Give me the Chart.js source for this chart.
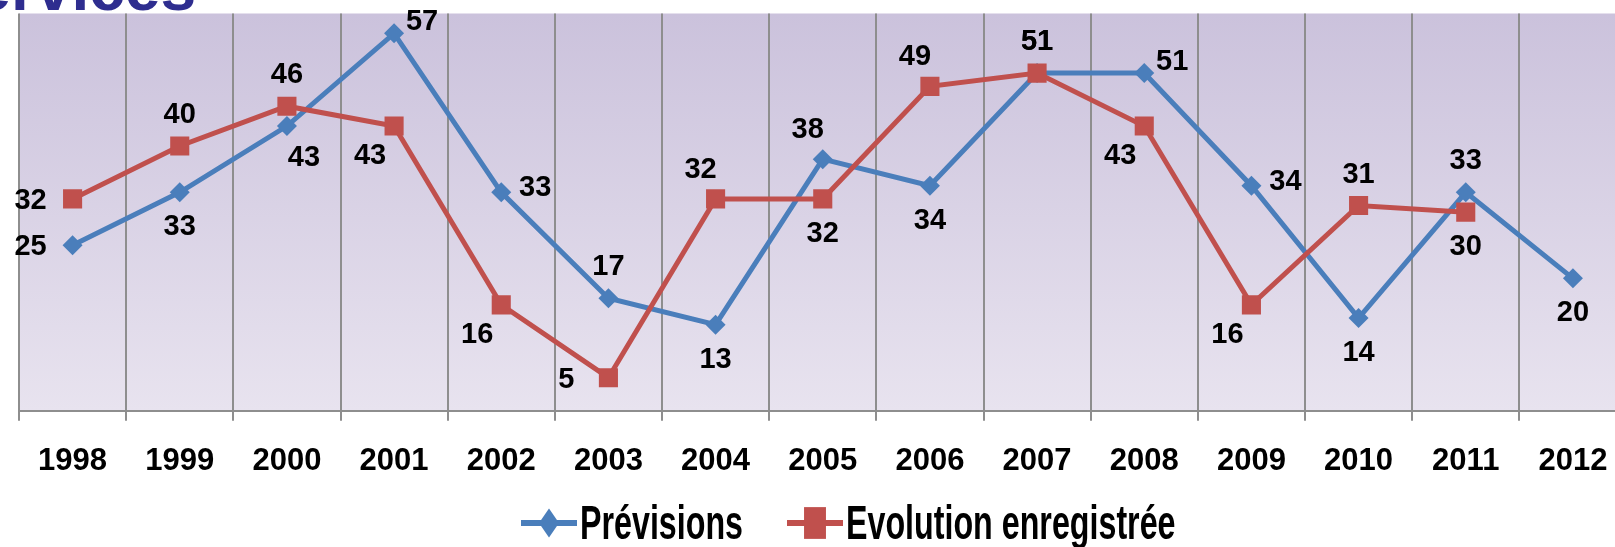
<!DOCTYPE html>
<html>
<head>
<meta charset="utf-8">
<script src="https://cdn.jsdelivr.net/npm/chart.js@4/dist/chart.umd.min.js"></script>
<style>
  html, body { margin: 0; padding: 0; background: #fff; overflow: hidden; }
  #wrap { position: relative; width: 1640px; height: 547px; }
</style>
</head>
<body>
<div id="wrap"><canvas id="chart"></canvas></div>
<script>
// years on the x axis
const years = ["1998", "1999", "2000", "2001", "2002", "2003", "2004", "2005",
  "2006", "2007", "2008", "2009", "2010", "2011", "2012"];
// "Prévisions" series
const previsions = [25, 33, 43, 57, 33, 17, 13, 38, 34, 51, 51, 34, 14, 33, 20];
// "Evolution enregistrée" series (no value for 2012)
const evolution = [32, 40, 46, 43, 16, 5, 32, 32, 49, 51, 43, 16, 31, 30, null];

// where each value label sits relative to its point
const prevPlacement = ["l", "b", "br", "ar", "r", "a", "b", "al", "b", "a", "ar", "r", "b", "a", "b"];
const evolPlacement = ["l", "a", "a", "bl", "bl", "l", "al", "b", "al", "a", "bl", "bl", "a", "b", null];

const offsets = {
  a: [0, -31], b: [0, 35], l: [-42, 2], r: [34, -4],
  al: [-15, -29], ar: [28, -11], bl: [-24, 30], br: [17, 32]
};

const BLUE = "#4a7ebb";
const RED = "#c0504d";

// background gradient in the plot area
const plotBackground = {
  id: "plotBackground",
  beforeDraw(chart) {
    const { ctx, chartArea: a } = chart;
    const g = ctx.createLinearGradient(0, a.top, 0, a.bottom);
    g.addColorStop(0, "#cbc2dc");
    g.addColorStop(1, "#e8e3ef");
    ctx.save();
    ctx.fillStyle = g;
    ctx.fillRect(a.left, a.top, a.right - a.left, a.bottom - a.top);
    ctx.restore();
  }
};

// value labels next to each point
const valueLabels = {
  id: "valueLabels",
  afterDatasetsDraw(chart) {
    const { ctx } = chart;
    ctx.save();
    ctx.font = "bold 29px 'Liberation Sans', Arial, sans-serif";
    ctx.fillStyle = "#000";
    ctx.textAlign = "center";
    ctx.textBaseline = "middle";
    chart.data.datasets.forEach((ds, i) => {
      const meta = chart.getDatasetMeta(i);
      meta.data.forEach((pt, j) => {
        const v = ds.data[j];
        const place = ds.placement[j];
        if (v == null || !place) return;
        const [dx, dy] = offsets[place];
        ctx.fillText(String(v), pt.x + dx, pt.y + dy);
      });
    });
    ctx.restore();
  }
};

// cut-off title at the top and the legend at the bottom
const extras = {
  id: "extras",
  afterDraw(chart) {
    const { ctx } = chart;
    ctx.save();
    ctx.font = "bold 64px 'Liberation Sans', Arial, sans-serif";
    ctx.fillStyle = "#2e2d8f";
    ctx.textAlign = "right";
    ctx.textBaseline = "alphabetic";
    ctx.fillText("Services", 196, 10);
    ctx.restore();

    // legend (tall, narrow lettering like the original)
    const items = chart.data.datasets.map((ds) => ({
      label: ds.label, color: ds.borderColor, style: ds.pointStyle
    }));
    const starts = [521, 787];
    const baseline = 539;
    const midY = 523;
    ctx.save();
    ctx.font = "bold 49px 'Liberation Sans Narrow', 'Liberation Sans', Arial, sans-serif";
    const sx = 163 / ctx.measureText(items[0].label).width;
    items.forEach((it, k) => {
      const x0 = starts[k];
      ctx.strokeStyle = it.color;
      ctx.lineWidth = 6;
      ctx.beginPath();
      ctx.moveTo(x0, midY);
      ctx.lineTo(x0 + 56, midY);
      ctx.stroke();
      ctx.fillStyle = it.color;
      ctx.save();
      ctx.translate(x0 + 28, midY);
      ctx.scale(1, 1.45);
      const r = it.style === "rectRot" ? 10 : 15.5;
      Chart.helpers.drawPoint(ctx, { pointStyle: it.style, radius: r, rotation: 0, borderWidth: 0 }, 0, 0);
      ctx.restore();
      ctx.save();
      ctx.translate(x0 + 59, baseline);
      ctx.scale(sx, 1);
      ctx.fillStyle = "#000";
      ctx.textAlign = "left";
      ctx.textBaseline = "alphabetic";
      ctx.fillText(it.label, 0, 0);
      ctx.restore();
    });
    ctx.restore();
  }
};

const data = {
  labels: years,
  datasets: [
    {
      label: "Prévisions",
      data: previsions,
      placement: prevPlacement,
      borderColor: BLUE,
      backgroundColor: BLUE,
      borderWidth: 5,
      pointStyle: "rectRot",
      pointRadius: 10,
      pointBorderWidth: 0,
      tension: 0,
      order: 2
    },
    {
      label: "Evolution enregistrée",
      data: evolution,
      placement: evolPlacement,
      borderColor: RED,
      backgroundColor: RED,
      borderWidth: 5,
      pointStyle: "rect",
      pointRadius: 13.5,
      pointBorderWidth: 0,
      tension: 0,
      order: 1
    }
  ]
};

const config = {
  type: "line",
  data: data,
  options: {
    responsive: true,
    maintainAspectRatio: false,
    animation: false,
    layout: { padding: { left: 19, right: 13, top: 11, bottom: 45 } },
    plugins: {
      legend: { display: false },
      tooltip: { enabled: false }
    },
    scales: {
      x: {
        offset: true,
        grid: {
          offset: true,
          color: "#8e8e8e",
          lineWidth: 2,
          tickLength: 10
        },
        border: { color: "#8e8e8e", width: 2 },
        ticks: {
          color: "#000",
          padding: 22,
          font: { family: "'Liberation Sans', Arial, sans-serif", size: 31, weight: "bold" }
        }
      },
      y: {
        display: false,
        min: 0,
        max: 60
      }
    }
  },
  plugins: [plotBackground, valueLabels, extras]
};

new Chart(document.getElementById("chart"), config);
</script>
</body>
</html>
